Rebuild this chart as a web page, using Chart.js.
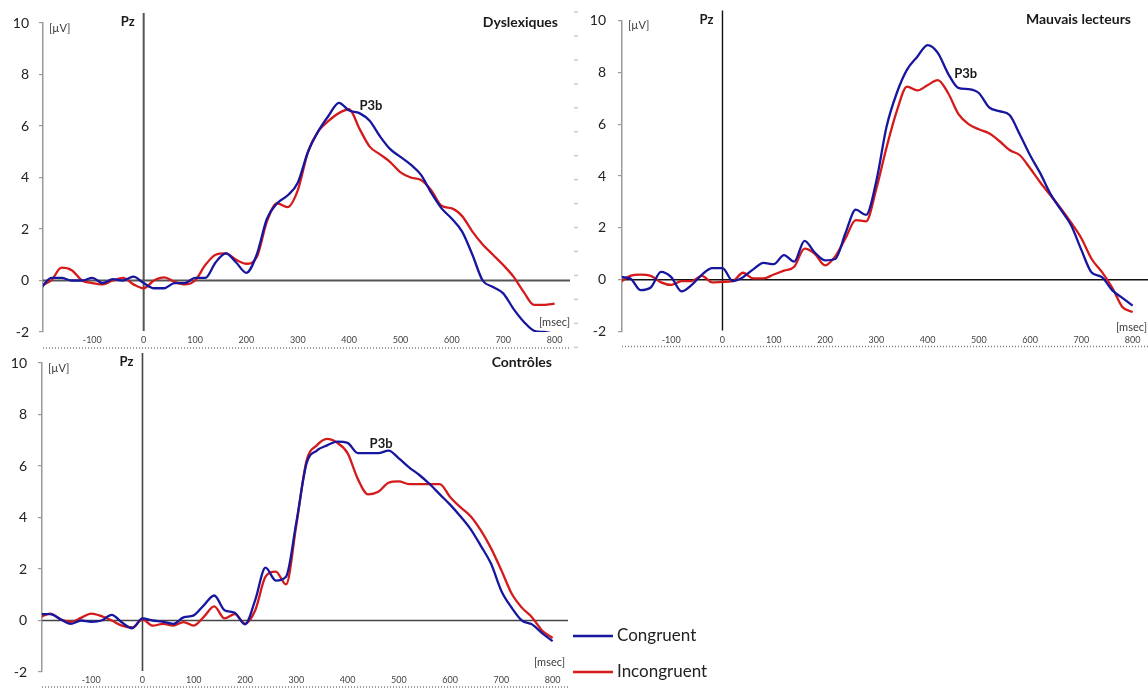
<!DOCTYPE html>
<html>
<head>
<meta charset="utf-8">
<title>P3b Pz</title>
<script src="https://cdn.jsdelivr.net/npm/chart.js@4.4.1/dist/chart.umd.min.js"></script>
<style>
  body { margin: 0; background: #fff; width: 1148px; height: 688px; overflow: hidden; position: relative; }
  canvas { position: absolute; }
</style>
</head>
<body>
<canvas id="dys" width="580" height="352" style="left:0;top:0"></canvas>
<canvas id="mauv" width="568" height="352" style="left:580px;top:0"></canvas>
<canvas id="ctrl" width="760" height="352" style="left:0;top:340px"></canvas>
<script>
// time points (msec)
const msec = [-200, -180, -160, -140, -120, -100, -80, -60, -40, -20,
    0, 20, 40, 60, 80, 100, 120, 140, 160, 180,
    200, 220, 240, 260, 280, 300, 320, 340, 360, 380,
    400, 420, 440, 460, 480, 500, 520, 540, 560, 580,
    600, 620, 640, 660, 680, 700, 720, 740, 760, 780, 800];

const xTicks = [-100, 0, 100, 200, 300, 400, 500, 600, 700, 800];
const yTicks = [-2, 0, 2, 4, 6, 8, 10];
const seriesLabels = ['Congruent', 'Incongruent'];

// Dyslexiques (µV)
const dysCong = [-0.3, 0.1, 0.1, 0.0, 0.0, 0.1, -0.1, 0.05, 0.0, 0.15,
    -0.1, -0.3, -0.3, -0.1, -0.1, 0.1, 0.1, 0.7, 1.05, 0.7,
    0.3, 1.0, 2.4, 3.0, 3.3, 3.8, 5.0, 5.8, 6.4, 6.9,
    6.6, 6.5, 6.2, 5.6, 5.1, 4.8, 4.5, 4.1, 3.4, 2.8,
    2.4, 1.9, 1.0, 0.0, -0.25, -0.5, -1.1, -1.6, -1.95, -2.0, -2.07];
const dysIncong = [-0.2, 0.0, 0.5, 0.4, 0.0, -0.1, -0.15, 0.0, 0.1, -0.15,
    -0.3, 0.0, 0.12, -0.05, -0.15, 0.0, 0.6, 1.0, 1.05, 0.8,
    0.65, 0.9, 2.3, 3.0, 2.85, 3.5, 5.0, 5.8, 6.2, 6.5,
    6.65, 5.9, 5.2, 4.9, 4.6, 4.2, 4.0, 3.9, 3.5, 2.9,
    2.8, 2.5, 1.9, 1.4, 1.0, 0.6, 0.15, -0.45, -0.95, -0.95, -0.9];

// Mauvais lecteurs (µV)
const mauvCong = [0.1, 0.05, -0.4, -0.3, 0.3, 0.1, -0.45, -0.2, 0.2, 0.45,
    0.45, -0.05, 0.1, 0.4, 0.65, 0.6, 0.95, 0.7, 1.5, 1.05,
    0.75, 0.8, 1.8, 2.7, 2.5, 3.8, 5.9, 7.2, 8.1, 8.6,
    9.05, 8.75, 7.95, 7.4, 7.35, 7.2, 6.65, 6.5, 6.35, 5.6,
    4.8, 4.1, 3.3, 2.7, 2.1, 1.15, 0.28, 0.1, -0.4, -0.7, -1.0];
const mauvIncong = [-0.1, 0.15, 0.2, 0.15, -0.1, -0.2, -0.05, -0.05, 0.15, -0.1,
    -0.08, -0.05, 0.27, 0.05, 0.05, 0.2, 0.35, 0.5, 1.2, 1.0,
    0.55, 0.9, 1.6, 2.3, 2.25, 3.5, 5.1, 6.5, 7.45, 7.3,
    7.5, 7.7, 7.2, 6.4, 6.0, 5.8, 5.65, 5.35, 5.0, 4.8,
    4.3, 3.75, 3.25, 2.75, 2.2, 1.6, 0.8, 0.3, -0.3, -1.05, -1.25];

// Contrôles (µV)
const ctrlCong = [0.25, 0.25, 0.05, -0.13, 0.0, -0.05, 0.0, 0.22, -0.08, -0.3,
    0.08, 0.0, -0.05, -0.13, 0.12, 0.2, 0.6, 0.97, 0.4, 0.3,
    -0.15, 0.8, 2.05, 1.55, 1.7, 3.8, 6.1, 6.6, 6.8, 6.95,
    6.9, 6.5, 6.5, 6.5, 6.6, 6.3, 5.95, 5.65, 5.3, 4.9,
    4.5, 4.05, 3.55, 2.9, 2.2, 1.15, 0.5, 0.0, -0.15, -0.5, -0.8];
const ctrlIncong = [0.12, 0.27, 0.05, -0.05, 0.1, 0.27, 0.17, 0.0, -0.2, -0.27,
    0.04, -0.2, -0.13, -0.2, -0.06, -0.2, 0.15, 0.55, 0.08, 0.25,
    -0.12, 0.4, 1.7, 1.9, 1.4, 3.7, 6.2, 6.8, 7.05, 6.9,
    6.5, 5.5, 4.9, 5.0, 5.35, 5.4, 5.3, 5.3, 5.3, 5.3,
    4.8, 4.4, 4.05, 3.5, 2.8, 1.95, 1.05, 0.5, 0.12, -0.4, -0.68];

const FONT = "Lato, 'Liberation Sans', sans-serif";
const BLUE = '#16169f';
const RED = '#d41a1a';

const panels = [
    { id: 'dys', title: 'Dyslexiques', cong: dysCong, incong: dysIncong, p3b: [420, 6.8],
      padTop: 23, padRight: 10, yWidth: 43, xHeight: 20, yPad: 10, xPad: 3,
      zeroColor: '#555', zeroWidth: 2, titleRight: 12, msecRight: 0, msecDy: 10, dotDy: 16,
      sideTicks: true, legend: false },
    { id: 'mauv', title: 'Mauvais lecteurs', cong: mauvCong, incong: mauvIncong, p3b: [452, 7.95],
      padTop: 20, padRight: 0, yWidth: 42, xHeight: 19, yPad: 12, xPad: 3,
      zeroColor: '#111', zeroWidth: 1.4, titleRight: 17, msecRight: 1, msecDy: 4, dotDy: 15,
      sideTicks: false, legend: false },
    { id: 'ctrl', title: 'Contrôles', cong: ctrlCong, incong: ctrlIncong, p3b: [443, 6.87],
      padTop: 23, padRight: 192, yWidth: 42, xHeight: 20, yPad: 11, xPad: 3,
      zeroColor: '#444', zeroWidth: 1.6, titleRight: 16, msecRight: 3, msecDy: 10, dotDy: 15,
      sideTicks: false, legend: true }
];

// axis lines, labels and legend drawn around the plot
const decorPlugin = {
    id: 'eegDecor',
    beforeDatasetsDraw(chart, args, o) {
        const { ctx, chartArea: a, scales: { x, y } } = chart;
        const x0 = x.getPixelForValue(0);
        const y0 = y.getPixelForValue(0);
        ctx.save();
        ctx.strokeStyle = o.zeroColor;
        ctx.lineWidth = o.zeroWidth;
        ctx.beginPath();
        ctx.moveTo(a.left, y0);
        ctx.lineTo(a.right, y0);
        ctx.moveTo(x0, a.top - 10);
        ctx.lineTo(x0, a.bottom - 1);
        ctx.stroke();

        // dotted time axis under the tick labels
        ctx.strokeStyle = '#808080';
        ctx.lineWidth = 1.5;
        ctx.setLineDash([1, 2]);
        ctx.beginPath();
        ctx.moveTo(a.left, a.bottom + o.dotDy);
        ctx.lineTo(a.right, a.bottom + o.dotDy);
        ctx.stroke();
        ctx.setLineDash([]);

        if (o.sideTicks) {
            ctx.strokeStyle = '#c6cbd8';
            ctx.lineWidth = 1.5;
            for (let k = 0; k < 15; k++) {
                const yy = 12 + k * 23.95;
                ctx.beginPath();
                ctx.moveTo(a.right + 4, yy);
                ctx.lineTo(a.right + 8, yy);
                ctx.stroke();
            }
        }
        ctx.restore();
    },
    afterDraw(chart, args, o) {
        const { ctx, chartArea: a, scales: { x, y } } = chart;
        const x0 = x.getPixelForValue(0);
        ctx.save();
        ctx.textBaseline = 'middle';
        ctx.fillStyle = '#1a1a1a';
        ctx.font = 'bold 13px ' + FONT;
        ctx.textAlign = 'right';
        ctx.fillText('Pz', x0 - 9, a.top - 1);
        ctx.font = 'bold 14px ' + FONT;
        ctx.fillText(o.title, a.right - o.titleRight, a.top - 1);
        ctx.font = 'bold 13px ' + FONT;
        ctx.textAlign = 'left';
        ctx.fillText('P3b', x.getPixelForValue(o.p3b[0]), y.getPixelForValue(o.p3b[1]));

        ctx.font = '11px ' + FONT;
        ctx.fillStyle = '#3a3a3a';
        ctx.fillText('[µV]', a.left + 6, a.top + 5);
        ctx.textAlign = 'right';
        ctx.fillText('[msec]', a.right - o.msecRight, a.bottom - o.msecDy);

        if (o.legend) {
            ctx.font = '17px ' + FONT;
            ctx.textAlign = 'left';
            chart.data.datasets.forEach((ds, i) => {
                const ly = a.bottom - 36 + i * 36;
                ctx.strokeStyle = ds.borderColor;
                ctx.lineWidth = 2.5;
                ctx.beginPath();
                ctx.moveTo(a.right + 5, ly);
                ctx.lineTo(a.right + 45, ly);
                ctx.stroke();
                ctx.fillStyle = '#222';
                ctx.fillText(ds.label, a.right + 49, ly);
            });
        }
        ctx.restore();
    }
};

function makeChart(p) {
    const toPoints = arr => msec.map((t, i) => ({ x: t, y: arr[i] }));
    const ctx = document.getElementById(p.id).getContext('2d');
    return new Chart(ctx, {
        type: 'line',
        data: {
            datasets: [
                { label: seriesLabels[0], data: toPoints(p.cong), borderColor: BLUE },
                { label: seriesLabels[1], data: toPoints(p.incong), borderColor: RED }
            ]
        },
        options: {
            responsive: false,
            animation: false,
            layout: { padding: { top: p.padTop, right: p.padRight, left: 0, bottom: 0 } },
            elements: {
                point: { radius: 0 },
                line: { borderWidth: 2.3, cubicInterpolationMode: 'monotone', fill: false }
            },
            plugins: {
                legend: { display: false },
                tooltip: { enabled: false },
                eegDecor: p
            },
            scales: {
                x: {
                    type: 'linear',
                    min: -196,
                    max: 830,
                    afterBuildTicks: s => { s.ticks = xTicks.map(v => ({ value: v })); },
                    afterFit: s => { s.height = p.xHeight; },
                    border: { display: false },
                    grid: { display: false, drawTicks: false },
                    ticks: { color: '#444', font: { size: 9, family: FONT }, padding: p.xPad, maxRotation: 0, autoSkip: false }
                },
                y: {
                    min: -2,
                    max: 10,
                    afterBuildTicks: s => { s.ticks = yTicks.map(v => ({ value: v })); },
                    afterFit: s => { s.width = p.yWidth; },
                    border: { display: true, color: '#9a9a9a', width: 1.5 },
                    grid: { drawOnChartArea: false, drawTicks: true, tickLength: 4, color: '#9a9a9a', lineWidth: 1.2 },
                    ticks: { color: '#222', font: { size: 14, family: FONT }, padding: p.yPad }
                }
            }
        },
        plugins: [decorPlugin]
    });
}

panels.forEach(makeChart);
</script>
</body>
</html>
